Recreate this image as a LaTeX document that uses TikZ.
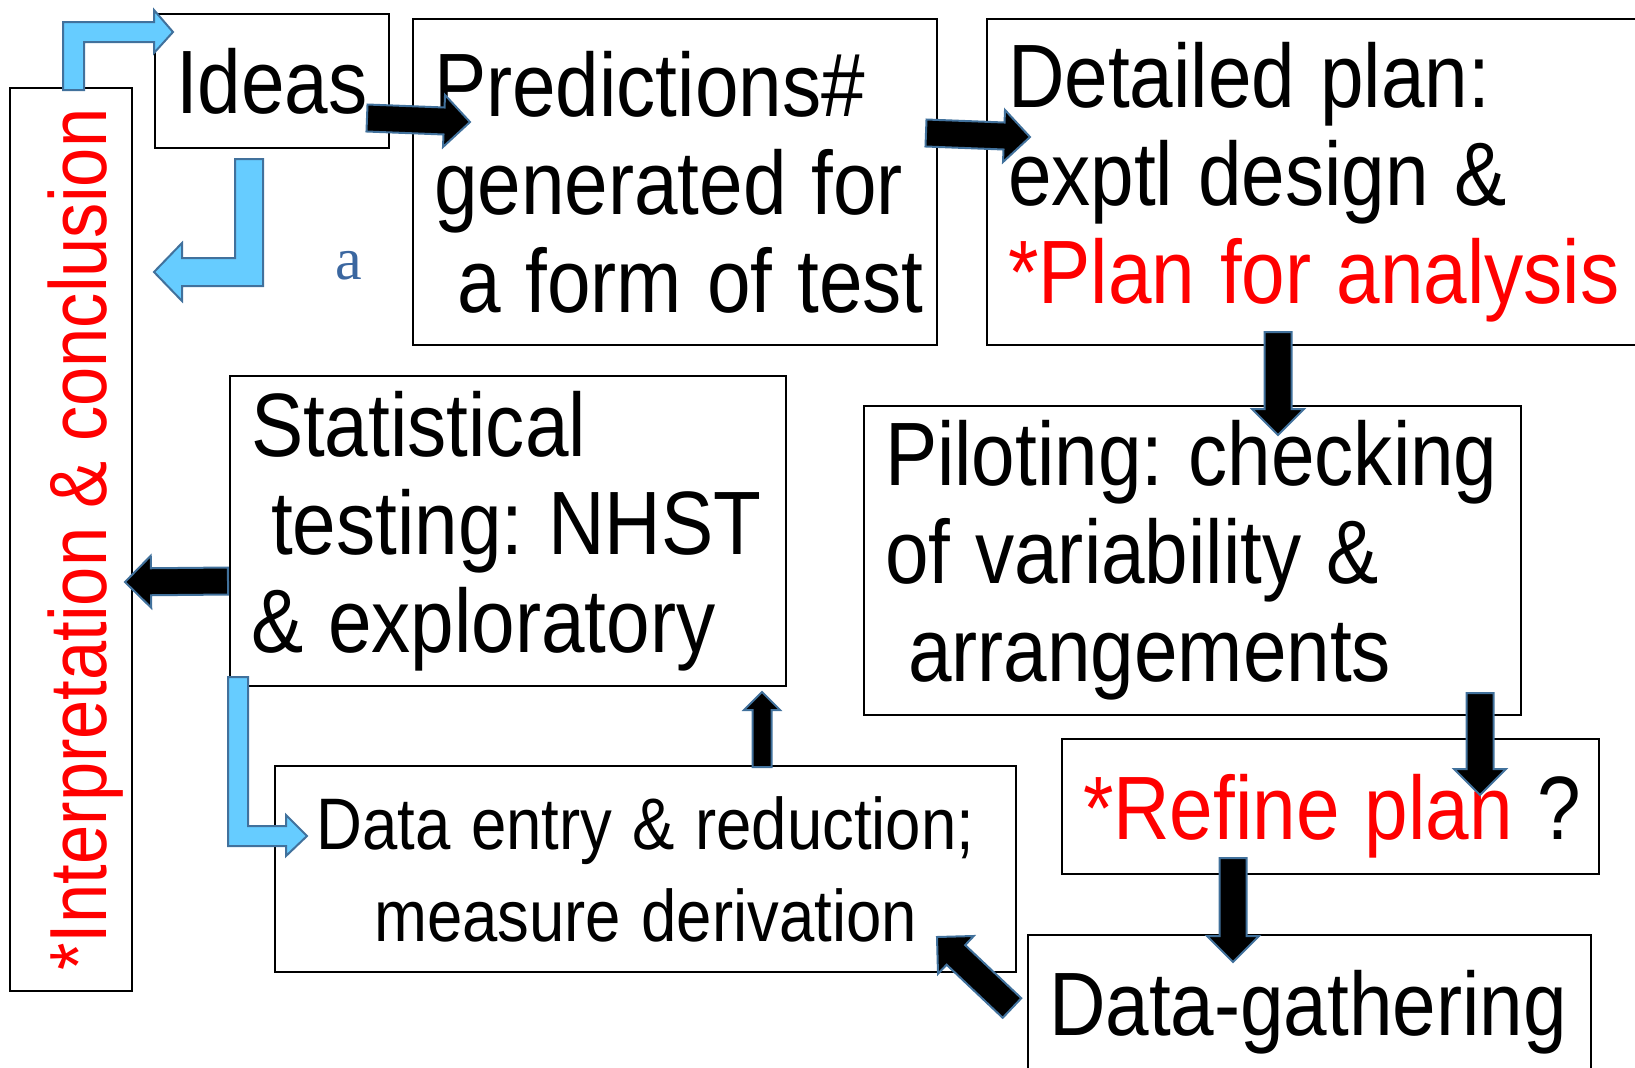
\documentclass[tikz,border=0pt]{standalone}
\usepackage{fontspec}
\setmainfont{Liberation Sans}[FakeStretch=0.87]
\newfontfamily\notefont{Liberation Serif}
\usetikzlibrary{calc}
\definecolor{arrowline}{RGB}{65,113,156}
\definecolor{skyfill}{RGB}{102,204,255}
\definecolor{notecol}{RGB}{59,103,160}
\newcommand{\bigfont}{\fontsize{45}{49}\selectfont\frenchspacing}
\newcommand{\entryfont}{\fontsize{36.5}{46}\selectfont\frenchspacing}
\newcommand{\sidefont}{\fontsize{40.5}{46}\selectfont\frenchspacing}
\newcommand{\wordgap}[1]{\spaceskip=#1\xspaceskip=#1\relax}
\tikzset{%
  box/.style      = {draw, line width=1pt, inner xsep=10.5pt, inner ysep=0pt,%
                     anchor=north west, align=left, font=\bigfont},%
  sidebox/.style  = {draw, line width=1pt, inner sep=0pt, rotate=90,%
                     font=\sidefont, text=red},%
  blockarr/.style = {fill=black, draw=arrowline, line width=1pt},%
  bentarr/.style  = {fill=skyfill, draw=arrowline, line width=1pt}%
}
% from, to, half shaft, half head, head length
\newcommand{\blockarrow}[5]{%
  \coordinate (hb) at ($(#2)!#5!(#1)$);
  \filldraw[blockarr] ($(#1)!#3!90:(#2)$) -- ($(hb)!#3!90:(#2)$)
    -- ($(hb)!#4!90:(#2)$) -- (#2) -- ($(hb)!#4!-90:(#2)$)
    -- ($(hb)!#3!-90:(#2)$) -- ($(#1)!#3!-90:(#2)$) -- cycle;
}

\begin{document}
\begin{tikzpicture}[x=0.5pt,y=-0.5pt]
	\useasboundingbox (0,0) rectangle (1635,1067);
	\clip (0,0) rectangle (1635,1067);
	\node[box, text width=96pt, minimum width=117pt, minimum height=67pt] (ideas) at (154,13) {Ideas};
	\node[box, text width=241pt, minimum width=262pt, minimum height=163pt] (pred) at (412,18)
		{\wordgap{12.5pt}\mbox{Predictions\#}\\ \mbox{generated for}\\ \hspace*{11.5pt}\mbox{a form of test}};
	\node[box, text width=314pt, minimum width=335pt, minimum height=163pt] (plan) at (986,18)
		{\wordgap{12.5pt}\mbox{Detailed plan:}\\ \mbox{exptl design \&}\\ \mbox{\textcolor{red}{*Plan for analysis}}};
	\node[sidebox, minimum width=451.5pt, minimum height=61pt, text height=35pt, text depth=0pt] (interp) at (71,539.5)
		{*Interpretation \& conclusion};
	\node[box, text width=257pt, minimum width=278pt, minimum height=155pt] (stat) at (229,375)
		{\wordgap{12.5pt}Statistical\\ \hspace*{10pt}\mbox{testing: NHST}\\ \mbox{\& exploratory}};
	\node[box, text width=307.5pt, minimum width=328.5pt, minimum height=154.5pt] (pilot) at (863,405)
		{\wordgap{12.5pt}\mbox{Piloting: checking}\\ \mbox{of variability \&}\\ \hspace*{11.5pt}arrangements};
	\node[box, align=center, font=\entryfont, text width=349.5pt, minimum width=370.5pt, minimum height=103pt] (entry) at (274,765)
		{\wordgap{10.15pt}\mbox{Data entry \& reduction;}\\ \mbox{measure derivation}};
	\node[box, text width=247.5pt, minimum width=268.5pt, minimum height=67.5pt, text depth=0pt] (refine) at (1061,738)
		{\wordgap{12.5pt}\mbox{\textcolor{red}{*Refine plan} ?}};
	\node[box, text width=260.5pt, minimum width=281.5pt, minimum height=77.5pt] (gather) at (1027,934)
		{Data-gathering};
	\node[anchor=base, font=\notefont\fontsize{30}{36}\selectfont, text=notecol] (note) at (349,279) {a};

	\coordinate (i2p-s) at (367,118);  \coordinate (i2p-t) at (470,122);
	\coordinate (p2d-s) at (926,133);  \coordinate (p2d-t) at (1030,137);
	\coordinate (d2p-s) at (1278,332); \coordinate (d2p-t) at (1278,435);
	\coordinate (p2r-s) at (1480,693); \coordinate (p2r-t) at (1480,795);
	\coordinate (r2g-s) at (1233,858); \coordinate (r2g-t) at (1233,962);
	\coordinate (g2e-s) at (1012,1008); \coordinate (g2e-t) at (937,937);
	\coordinate (e2s-s) at (762,767);  \coordinate (e2s-t) at (762,692);
	\coordinate (s2i-s) at (228,581);  \coordinate (s2i-t) at (125,582);

	\blockarrow{i2p-s}{i2p-t}{6.75pt}{13pt}{13pt}
	\blockarrow{p2d-s}{p2d-t}{6.75pt}{13pt}{13pt}
	\blockarrow{d2p-s}{d2p-t}{6.75pt}{13pt}{13pt}
	\blockarrow{p2r-s}{p2r-t}{6.75pt}{13pt}{13pt}
	\blockarrow{r2g-s}{r2g-t}{6.75pt}{13pt}{13pt}
	\blockarrow{g2e-s}{g2e-t}{6.75pt}{13pt}{13pt}
	\blockarrow{e2s-s}{e2s-t}{4.75pt}{9pt}{9pt}
	\blockarrow{s2i-s}{s2i-t}{6.75pt}{13pt}{13pt}

	\filldraw[bentarr] (63,90) -- (63,22) -- (154,22) -- (154,10) -- (173,32)
		-- (154,53) -- (154,42) -- (84,42) -- (84,90) -- cycle;
	\filldraw[bentarr] (235,159) -- (263,159) -- (263,286) -- (182,286) -- (182,301)
		-- (154,272) -- (182,243) -- (182,258) -- (235,258) -- cycle;
	\filldraw[bentarr] (228,677) -- (248,677) -- (248,826) -- (286,826) -- (286,815)
		-- (307,836) -- (286,856) -- (286,846) -- (228,846) -- cycle;
\end{tikzpicture}
\end{document}
